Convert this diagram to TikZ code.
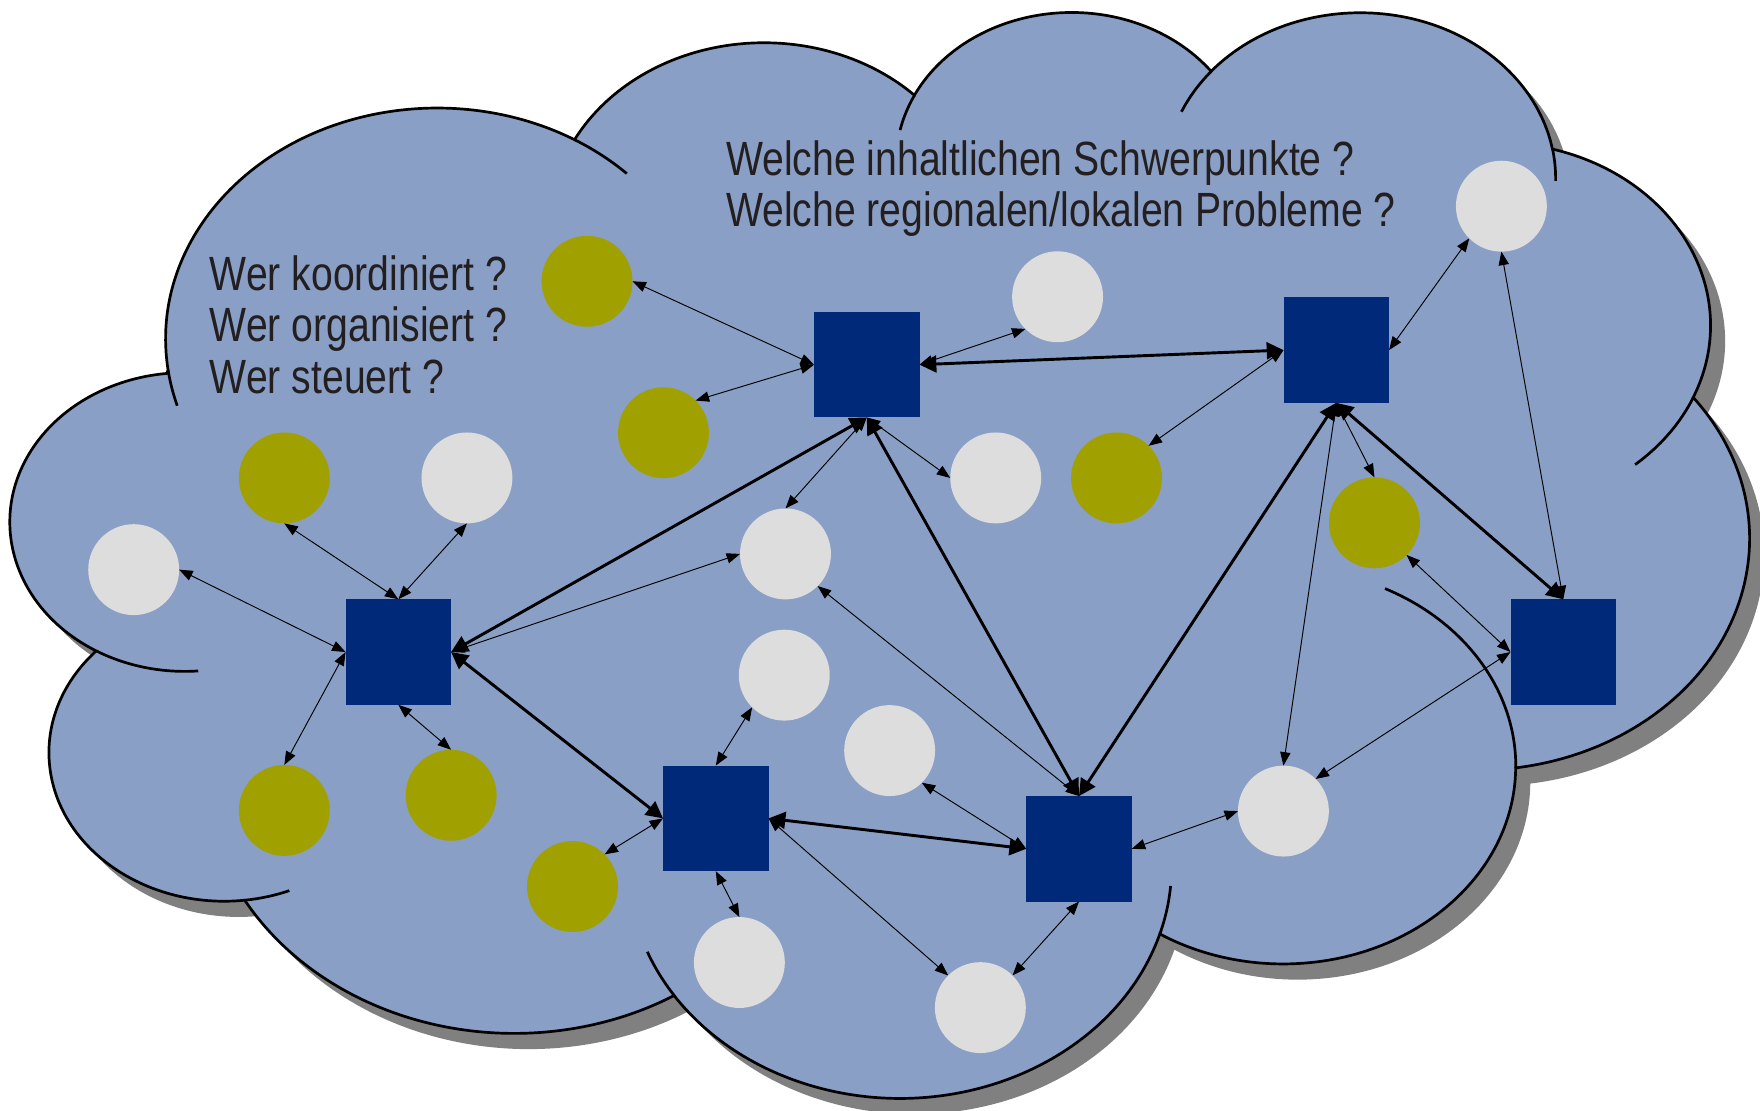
\documentclass[tikz,border=0pt]{standalone}
\usepackage{fontspec}
\newfontfamily\lblfont[FakeStretch=0.815]{Liberation Sans}
\usetikzlibrary{arrows.meta}
\definecolor{cloudfill}{RGB}{138,159,197}
\definecolor{shadowc}{RGB}{128,128,128}
\definecolor{navyC}{RGB}{0,41,122}
\definecolor{oliveC}{RGB}{160,160,0}
\definecolor{lightg}{RGB}{221,221,221}
\definecolor{textc}{RGB}{35,31,32}
\tikzset{
  cloudpath/.style={insert path={
    (390.0,1437.0)
    arc[start angle=-187.745, end angle=-59.63,  x radius=675.3, y radius=919.0]
    arc[start angle=-152.03,  end angle=-45.457, x radius=533.3, y radius=726.7]
    arc[start angle=-153.493, end angle=-37.32,  x radius=436.5, y radius=594.5]
    arc[start angle=-139.712, end angle=-10.211, x radius=485.7, y radius=659.5]
    arc[start angle=-74.768,  end angle=23.213,  x radius=533.3, y radius=727.3]
    arc[start angle=-37.533,  end angle=81.862,  x radius=677.5, y radius=922.0]
    arc[start angle=0.4596,   end angle=121.976, x radius=578.5, y radius=786.7]
    arc[start angle=16.845,   end angle=146.238, x radius=675.2, y radius=921.5]
    arc[start angle=58.986,   end angle=150.185, x radius=772.0, y radius=1054.3]
    arc[start angle=83.306,   end angle=223.107, x radius=436.0, y radius=591.8]
    arc[start angle=120.356,  end angle=264.112, x radius=434.5, y radius=594.5]
    -- cycle}},
  sq/.style={rectangle, fill=navyC, draw=none, minimum width=47pt, minimum height=47pt, inner sep=0pt, outer sep=0pt},
  ol/.style={circle, fill=oliveC, draw=none, minimum size=40.5pt, inner sep=0pt, outer sep=0pt},
  gr/.style={circle, fill=lightg, draw=none, minimum size=40.5pt, inner sep=0pt, outer sep=0pt},
  lbl/.style={anchor=base west, inner sep=0pt, outer sep=0pt, text=textc, font=\lblfont\fontsize{21.4pt}{23pt}\selectfont},
  thinlink/.style={line width=0.42pt, draw=black, arrows={Triangle[length=6pt,width=4.6pt]-Triangle[length=6pt,width=4.6pt]}},
  thicklink/.style={line width=1.3pt, draw=black, arrows={Triangle[length=7.5pt,width=7.5pt]-Triangle[length=7.5pt,width=7.5pt]}},
  cloudline/.style={line width=1.2pt, draw=black}
}
\begin{document}
\begin{tikzpicture}[x=0.5pt, y=-0.5pt]
\useasboundingbox (0,0) rectangle (1568,989);
\clip (0,0) rectangle (1568,989);
\fill[white] (0,0) rectangle (1568,989);
% shadow
\begin{scope}[shift={(23,22)}, x=0.179167pt, y=-0.111921pt]
  \path[fill=shadowc, cloudpath];
\end{scope}
% cloud
\begin{scope}[shift={(10,8)}, x=0.179167pt, y=-0.111921pt]
  \path[fill=cloudfill, cloudline, cloudpath];
  \coordinate (c1) at (1059.14,1313.16);
  \coordinate (c3) at (2636.41,608.53);
  \coordinate (c4) at (3354.05,674.49);
  \coordinate (c5) at (3691.95,1259.33);
  \coordinate (c7) at (3162.19,3014.04);
  \coordinate (c8) at (2209.62,3414.35);
  \coordinate (c10) at (529.85,2959.36);
  \coordinate (c11) at (431.18,2041.92);
  \draw[cloudline] (c11) ++(85.546:434.5 and 594.5) arc[start angle=85.546, end angle=120.356, x radius=434.5, y radius=594.5];
  \draw[cloudline] (c10) ++(68.235:436.0 and 591.8) arc[start angle=68.235, end angle=83.306, x radius=436.0, y radius=591.8];
  \draw[cloudline] (c8) ++(146.238:675.2 and 921.5) arc[start angle=146.238, end angle=158.473, x radius=675.2, y radius=921.5];
  \draw[cloudline] (c8) ++(4.738:675.2 and 921.5) arc[start angle=4.738, end angle=16.845, x radius=675.2, y radius=921.5];
  \draw[cloudline] (c7) ++(-64.025:578.5 and 786.7) arc[start angle=-64.025, end angle=0.4596, x radius=578.5, y radius=786.7];
  \draw[cloudline] (c5) ++(23.213:533.3 and 727.3) arc[start angle=23.213, end angle=49.646, x radius=533.3, y radius=727.3];
  \draw[cloudline] (c4) ++(-10.211:485.7 and 659.5) arc[start angle=-10.211, end angle=0.821, x radius=485.7, y radius=659.5];
  \draw[cloudline] (c4) ++(-156.283:485.7 and 659.5) arc[start angle=-156.283, end angle=-139.712, x radius=485.7, y radius=659.5];
  \draw[cloudline] (c3) ++(-167.726:436.5 and 594.5) arc[start angle=-167.726, end angle=-153.493, x radius=436.5, y radius=594.5];
  \draw[cloudline] (c1) ++(-59.63:675.3 and 919.0) arc[start angle=-59.63, end angle=-45.74, x radius=675.3, y radius=919.0];
  \draw[cloudline] (c1) ++(163.193:675.3 and 919.0) arc[start angle=163.193, end angle=172.255, x radius=675.3, y radius=919.0];
\end{scope}
% texts
\node[lbl] (q1) at (187,258.4) {Wer koordiniert ?};
\node[lbl] (q2) at (187,304.4) {Wer organisiert ?};
\node[lbl] (q3) at (187,350.4) {Wer steuert ?};
\node[lbl] (q4) at (647,156) {Welche inhaltlichen Schwerpunkte ?};
\node[lbl] (q5) at (647,201.4) {Welche regionalen/lokalen Probleme ?};
% squares
\node[sq] (S1) at (772.2,324.9) {};
\node[sq] (S2) at (1190.5,311.9) {};
\node[sq] (S3) at (354.9,580.9) {};
\node[sq] (S4) at (637.7,729.1) {};
\node[sq] (S5) at (961.3,756.2) {};
\node[sq] (S6) at (1392.7,580.9) {};
% olive circles
\node[ol] (O1) at (523,250.6) {};
\node[ol] (O2) at (591.1,385.5) {};
\node[ol] (O3) at (253.3,425.8) {};
\node[ol] (O4) at (253.3,722) {};
\node[ol] (O5) at (401.9,708.5) {};
\node[ol] (O6) at (510,789.8) {};
\node[ol] (O7) at (1224.5,465.8) {};
\node[ol] (O8) at (994.7,425.8) {};
% grey circles
\node[gr] (W1) at (416,425.8) {};
\node[gr] (W2) at (119.1,507.5) {};
\node[gr] (W3) at (699.8,493.5) {};
\node[gr] (W4) at (698.7,601.5) {};
\node[gr] (W5) at (792.6,668.7) {};
\node[gr] (W6) at (658.7,857.5) {};
\node[gr] (W7) at (873.4,897.7) {};
\node[gr] (W8) at (1143.4,722.6) {};
\node[gr] (W10) at (887.1,425.8) {};
\node[gr] (W11) at (942.2,264.4) {};
\node[gr] (W12) at (1337.6,183.7) {};
% thin connectors
\draw[thinlink] (O1.east) -- (S1.west);
\draw[thinlink] (O2.north east) -- (S1.west);
\draw[thinlink] (W11.south west) -- (S1.east);
\draw[thinlink] (S1.south) -- (W10.west);
\draw[thinlink] (S1.south) -- (W3.north);
\draw[thinlink] (S2.west) -- (O8.north east);
\draw[thinlink] (S2.east) -- (W12.south west);
\draw[thinlink] (W12.south) -- (S6.north);
\draw[thinlink] (S2.south) -- (O7.north);
\draw[thinlink] (S2.south) -- (W8.north);
\draw[thinlink] (O7.south east) -- (S6.west);
\draw[thinlink] (S6.west) -- (W8.north east);
\draw[thinlink] (S5.east) -- (W8.west);
\draw[thinlink] (S5.west) -- (W5.south east);
\draw[thinlink] (S5.north) -- (W3.south east);
\draw[thinlink] (S5.south) -- (W7.north east);
\draw[thinlink] (S4.east) -- (W7.north west);
\draw[thinlink] (S4.north) -- (W4.south west);
\draw[thinlink] (S4.west) -- (O6.north east);
\draw[thinlink] (S4.south) -- (W6.north);
\draw[thinlink] (S3.east) -- (W3.west);
\draw[thinlink] (S3.north) -- (O3.south);
\draw[thinlink] (S3.north) -- (W1.south);
\draw[thinlink] (S3.west) -- (W2.east);
\draw[thinlink] (S3.west) -- (O4.north);
\draw[thinlink] (S3.south) -- (O5.north);
% thick connectors
\draw[thicklink] (S1.south) -- (S3.east);
\draw[thicklink] (S1.south) -- (S5.north);
\draw[thicklink] (S1.east) -- (S2.west);
\draw[thicklink] (S2.south) -- (S6.north);
\draw[thicklink] (S2.south) -- (S5.north);
\draw[thicklink] (S5.west) -- (S4.east);
\draw[thicklink] (S3.east) -- (S4.west);
\end{tikzpicture}
\end{document}
